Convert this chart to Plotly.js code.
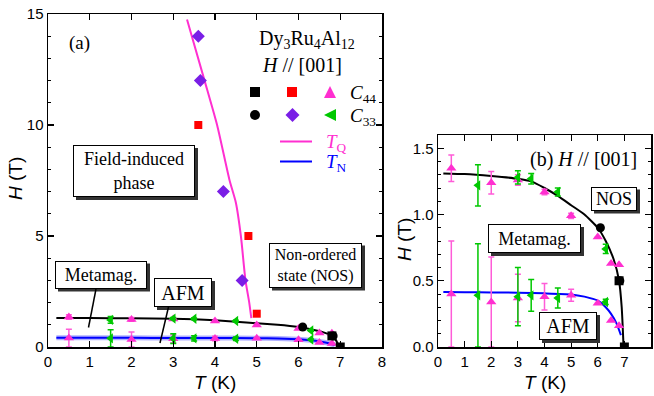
<!DOCTYPE html>
<html><head><meta charset="utf-8">
<script src="https://cdn.plot.ly/plotly-3.0.1.min.js"></script>
<style>html,body{margin:0;padding:0;background:#fff;}#chart{width:654px;height:396px;}</style>
</head><body><div id="chart"></div>
<script>
// ---- Data (T in K, H in T) ----
const c44BlackT = [6.8, 7.0];
const c44BlackH = [0.5, 0.0];
const c44RedT = [3.6, 4.8, 5.0];
const c44RedH = [10.0, 5.0, 1.5];
const c44PinkT = [0.5, 0.5, 2, 2, 3, 3, 4, 4, 5, 5, 6, 6, 6.5, 6.5, 6.8, 6.8];
const c44PinkH = [1.35, 0.40, 1.24, 0.34, 1.26, 0.37, 1.17, 0.38, 0.99, 0.39, 0.83, 0.33, 0.63, 0.20, 0.62, 0.16];
const c44PinkErr = [0.10, 0.40, 0.085, 0.34, 0.04, 0.18, 0.02, 0.10, 0.02, 0.045, 0, 0, 0, 0, 0, 0];
const c33BlackT = [6.1, 6.83];
const c33BlackH = [0.9, 0.5];
const c33PurpleT = [3.6, 3.65, 4.2, 4.65];
const c33PurpleH = [14.0, 12.0, 7.0, 3.0];
const c33GreenT = [1.5, 1.5, 3, 3, 3.5, 3.5, 4.5, 4.5, 6.3, 6.3];
const c33GreenH = [1.22, 0.39, 1.28, 0.38, 1.27, 0.39, 1.17, 0.37, 0.74, 0.34];
const c33GreenErr = [0.155, 0.39, 0.05, 0.22, 0.04, 0.12, 0.03, 0.075, 0.035, 0.02];
const tqT = [3.33, 3.75, 4.05, 4.35, 4.5, 4.62, 4.73, 4.82, 4.87];
const tqH = [14.75, 12.0, 10.0, 7.5, 6.5, 5.0, 3.0, 2.0, 1.3];
const metaT = [0.2, 1, 2, 3, 3.5, 4, 4.5, 5, 5.5, 6, 6.3, 6.6, 6.8, 6.9, 6.97];
const metaH = [1.31, 1.305, 1.29, 1.27, 1.25, 1.2, 1.14, 1.07, 1.0, 0.9, 0.8, 0.66, 0.5, 0.3, 0.0];
const tnT = [0.2, 1, 2, 3, 4, 5, 5.5, 6, 6.3, 6.5, 6.7, 6.87];
const tnH = [0.415, 0.414, 0.412, 0.41, 0.405, 0.397, 0.38, 0.35, 0.3, 0.25, 0.18, 0.09];

const W = 654, Hh = 396;
const px = x => x / W, py = y => 1 - y / Hh;
const PINK = '#ff2fd0', GREEN = '#00c800', PURPLE = '#7a1ee6', RED = '#ff0000', BLUE = '#0000ff';
const serif = 'Liberation Serif, Times New Roman, serif';
const sans = 'Liberation Sans, Arial, sans-serif';

function panelTraces(xa, ya, full) {
  const t = [];
  t.push({x: metaT, y: metaH, mode: 'lines', line: {color: '#000', width: 2, shape: 'spline', smoothing: 0.5}, xaxis: xa, yaxis: ya});
  if (full) t.push({x: tnT, y: tnH, mode: 'lines', line: {color: 'rgba(80,80,255,0.45)', width: 5, shape: 'spline', smoothing: 0.5}, xaxis: xa, yaxis: ya});
  t.push({x: tnT, y: tnH, mode: 'lines', line: {color: BLUE, width: 2, shape: 'spline', smoothing: 0.5}, xaxis: xa, yaxis: ya});
  if (full) {
    t.push({x: tqT, y: tqH, mode: 'lines', line: {color: PINK, width: 2, shape: 'spline', smoothing: 0.6}, xaxis: xa, yaxis: ya});
    t.push({x: c44RedT, y: c44RedH, mode: 'markers', marker: {symbol: 'square', size: 8, color: RED}, xaxis: xa, yaxis: ya});
    t.push({x: c33PurpleT, y: c33PurpleH, mode: 'markers', marker: {symbol: 'diamond', size: 10, color: PURPLE}, xaxis: xa, yaxis: ya});
  }
  t.push({x: c44PinkT, y: c44PinkH, mode: 'markers', marker: {symbol: 'triangle-up', size: 9, color: PINK},
    error_y: {type: 'data', array: c44PinkErr, visible: true, color: '#ff5cd8', thickness: 1.5, width: 3}, xaxis: xa, yaxis: ya});
  t.push({x: c33GreenT, y: c33GreenH, mode: 'markers', marker: {symbol: 'triangle-left', size: 9, color: GREEN},
    error_y: {type: 'data', array: c33GreenErr, visible: true, color: GREEN, thickness: 1.5, width: 3}, xaxis: xa, yaxis: ya});
  t.push({x: c33BlackT, y: c33BlackH, mode: 'markers', marker: {symbol: 'circle', size: 9, color: '#000'}, xaxis: xa, yaxis: ya});
  t.push({x: c44BlackT, y: c44BlackH, mode: 'markers', marker: {symbol: 'square', size: 9, color: '#000'}, xaxis: xa, yaxis: ya});
  return t;
}
const data = panelTraces('x', 'y', true).concat(panelTraces('x2', 'y2', false));

const axBase = {showline: true, linecolor: '#000', linewidth: 1.5, mirror: 'allticks', ticks: 'inside', ticklen: 6,
  tickwidth: 1.2, tickcolor: '#000', showgrid: false, zeroline: false, tickfont: {family: sans, size: 15, color: '#000'}, fixedrange: true};

const annotations = [], shapes = [];
function box(cx, cy, w, h, text, size) {
  shapes.push({type: 'rect', xref: 'paper', yref: 'paper', x0: px(cx - w / 2 + 3), x1: px(cx + w / 2 + 3), y0: py(cy + h / 2 + 3), y1: py(cy - h / 2 + 3),
    fillcolor: '#333', line: {width: 0}, layer: 'above'});
  annotations.push({xref: 'paper', yref: 'paper', x: px(cx), y: py(cy), xanchor: 'center', yanchor: 'middle', text: text, showarrow: false,
    width: w - 2, height: h - 2, bgcolor: '#fff', bordercolor: '#000', borderwidth: 1, borderpad: 0, font: {family: serif, size: size, color: '#000'}});
}
function txt(x, y, text, size, color, anchor, extra) {
  annotations.push(Object.assign({xref: 'paper', yref: 'paper', x: px(x), y: py(y), xanchor: anchor || 'center', yanchor: 'middle', text: text,
    showarrow: false, font: {family: serif, size: size, color: color || '#000'}}, extra || {}));
}
function line(x0, y0, x1, y1, color, w) {
  shapes.push({type: 'line', xref: 'paper', yref: 'paper', x0: px(x0), y0: py(y0), x1: px(x1), y1: py(y1), line: {color: color, width: w || 1.5}, layer: 'above'});
}

// Panel (a) labels
txt(79, 43, '(a)', 19);
txt(307, 39, 'Dy<sub>3</sub>Ru<sub>4</sub>Al<sub>12</sub>', 20);
txt(302, 65, '<i>H</i> // [001]', 20);
// legend-like key
shapes.push({type: 'rect', xref: 'paper', yref: 'paper', x0: px(250), x1: px(260), y0: py(97), y1: py(87), fillcolor: '#000', line: {width: 0}});
shapes.push({type: 'rect', xref: 'paper', yref: 'paper', x0: px(287), x1: px(297), y0: py(97), y1: py(87), fillcolor: RED, line: {width: 0}});
shapes.push({type: 'path', xref: 'paper', yref: 'paper', path: `M ${px(324)} ${py(98)} L ${px(336)} ${py(98)} L ${px(330)} ${py(86)} Z`, fillcolor: PINK, line: {width: 0}});
txt(348, 94, '<i>C</i><sub>44</sub>', 19, '#000', 'left');
shapes.push({type: 'circle', xref: 'paper', yref: 'paper', x0: px(250), x1: px(260), y0: py(120), y1: py(110), fillcolor: '#000', line: {width: 0}});
shapes.push({type: 'path', xref: 'paper', yref: 'paper', path: `M ${px(292.5)} ${py(108)} L ${px(299.5)} ${py(115)} L ${px(292.5)} ${py(122)} L ${px(285.5)} ${py(115)} Z`, fillcolor: PURPLE, line: {width: 0}});
shapes.push({type: 'path', xref: 'paper', yref: 'paper', path: `M ${px(324)} ${py(115)} L ${px(336)} ${py(109)} L ${px(336)} ${py(121)} Z`, fillcolor: GREEN, line: {width: 0}});
txt(348, 117, '<i>C</i><sub>33</sub>', 19, '#000', 'left');
line(280, 141.5, 312, 141.5, PINK, 2);
txt(324, 143, '<i>T</i><sub>Q</sub>', 19, PINK, 'left');
line(280, 161.5, 312, 161.5, BLUE, 2);
txt(324, 163, '<i>T</i><sub>N</sub>', 19, BLUE, 'left');
// boxes panel a
box(134, 171, 122, 52, 'Field-induced<br>phase', 18);
box(101, 274.5, 92, 28, 'Metamag.', 18);
box(183, 292.5, 58, 29, 'AFM', 20);
box(315.5, 265, 93, 45, 'Non-ordered<br>state (NOS)', 16);
line(96, 289, 88.5, 327.5, '#000', 1.5);
line(168.5, 307, 160, 343, '#000', 1.5);
// Panel (b) labels
txt(583, 160, '(b) <i>H</i> // [001]', 20);
box(614, 198.5, 46, 24, 'NOS', 18);
box(534.5, 238.5, 93, 29, 'Metamag.', 18);
box(568, 326, 58, 28, 'AFM', 20);
// axis titles
txt(15, 179, '<i>H</i> (T)', 19, '#000', 'center', {textangle: -90, font: {family: sans, size: 19, color: '#000'}});
txt(404, 240, '<i>H</i> (T)', 19, '#000', 'center', {textangle: -90, font: {family: sans, size: 19, color: '#000'}});
txt(215, 382, '<i>T</i> (K)', 19, '#000', 'center', {font: {family: sans, size: 19, color: '#000'}});
txt(545, 382, '<i>T</i> (K)', 19, '#000', 'center', {font: {family: sans, size: 19, color: '#000'}});

const layout = {
  width: W, height: Hh, margin: {l: 0, r: 0, t: 0, b: 0}, paper_bgcolor: '#fff', plot_bgcolor: 'rgba(0,0,0,0)', showlegend: false,
  xaxis: Object.assign({}, axBase, {domain: [px(48), px(382)], range: [0, 8], dtick: 1, tick0: 0, anchor: 'y'}),
  yaxis: Object.assign({}, axBase, {domain: [py(347), py(14)], range: [0, 15], dtick: 5, tick0: 0, anchor: 'x',
    minor: {dtick: 1, ticks: 'inside', ticklen: 3, tickcolor: '#000', tickwidth: 1}}),
  xaxis2: Object.assign({}, axBase, {domain: [px(438), px(651)], range: [0, 8], dtick: 1, tick0: 0, anchor: 'y2'}),
  yaxis2: Object.assign({}, axBase, {domain: [py(347), py(135)], range: [0, 1.6], dtick: 0.5, tick0: 0, tickformat: '.1f', anchor: 'x2',
    minor: {dtick: 0.1, ticks: 'inside', ticklen: 3, tickcolor: '#000', tickwidth: 1}}),
  annotations: annotations, shapes: shapes
};
Plotly.newPlot('chart', data, layout, {staticPlot: true, displayModeBar: false});
</script></body></html>
